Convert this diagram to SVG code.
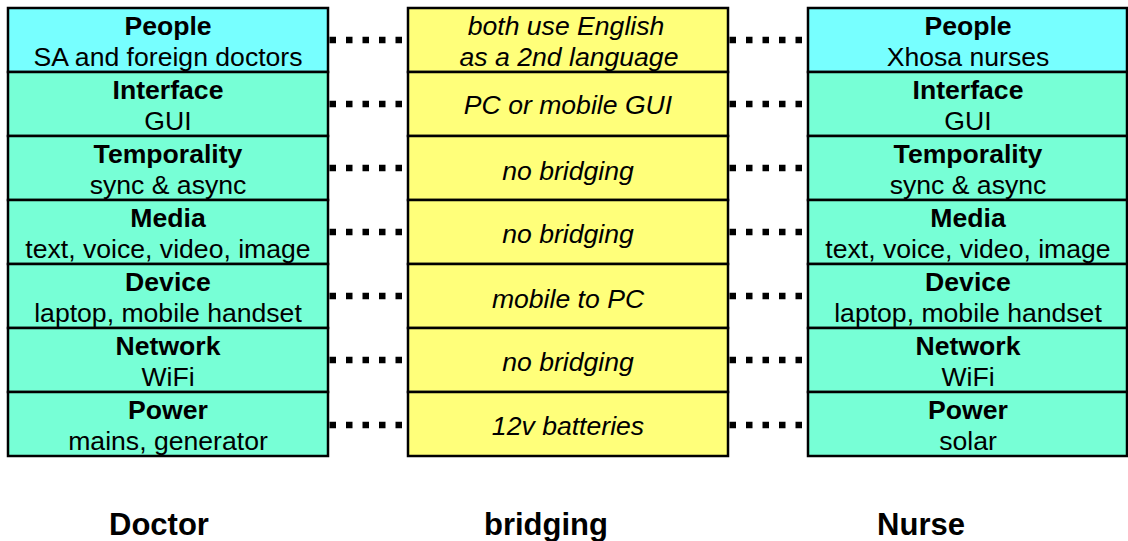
<svg xmlns="http://www.w3.org/2000/svg" width="1128" height="541" viewBox="0 0 1128 541">
<style>
rect{stroke:#000;stroke-width:2.5}
.cy{fill:#77FFFF}
.gr{fill:#77FFD6}
.ye{fill:#FFFF7A}
text{font-family:"Liberation Sans",Arial,sans-serif;font-size:26.6px;text-anchor:middle;fill:#000}
.b{font-weight:bold}
.i{font-style:italic}
.lbl{font-weight:bold;font-size:31px}
.con line{stroke:#000;stroke-width:6.5;stroke-dasharray:6.5 10}
</style>
<rect x="0" y="0" width="1128" height="541" style="fill:#fff;stroke:none"/>
<g class="con" id="connectors">
<line x1="329.5" y1="40" x2="408" y2="40"/><line x1="729.5" y1="40" x2="808" y2="40"/>
<line x1="329.5" y1="104" x2="408" y2="104"/><line x1="729.5" y1="104" x2="808" y2="104"/>
<line x1="329.5" y1="168" x2="408" y2="168"/><line x1="729.5" y1="168" x2="808" y2="168"/>
<line x1="329.5" y1="232" x2="408" y2="232"/><line x1="729.5" y1="232" x2="808" y2="232"/>
<line x1="329.5" y1="296" x2="408" y2="296"/><line x1="729.5" y1="296" x2="808" y2="296"/>
<line x1="329.5" y1="360" x2="408" y2="360"/><line x1="729.5" y1="360" x2="808" y2="360"/>
<line x1="329.5" y1="425" x2="408" y2="425"/><line x1="729.5" y1="425" x2="808" y2="425"/>
</g>
<!-- Doctor column -->
<g id="d-people"><rect class="cy" x="8" y="8" width="320" height="64"/><text class="b" x="168" y="35">People</text><text x="168" y="66">SA and foreign doctors</text></g>
<g id="d-interface"><rect class="gr" x="8" y="72" width="320" height="64"/><text class="b" x="168" y="99">Interface</text><text x="168" y="130">GUI</text></g>
<g id="d-temporality"><rect class="gr" x="8" y="136" width="320" height="64"/><text class="b" x="168" y="163">Temporality</text><text x="168" y="194">sync &amp; async</text></g>
<g id="d-media"><rect class="gr" x="8" y="200" width="320" height="64"/><text class="b" x="168" y="227">Media</text><text x="168" y="258">text, voice, video, image</text></g>
<g id="d-device"><rect class="gr" x="8" y="264" width="320" height="64"/><text class="b" x="168" y="291">Device</text><text x="168" y="322">laptop, mobile handset</text></g>
<g id="d-network"><rect class="gr" x="8" y="328" width="320" height="64"/><text class="b" x="168" y="355">Network</text><text x="168" y="386">WiFi</text></g>
<g id="d-power"><rect class="gr" x="8" y="392" width="320" height="64"/><text class="b" x="168" y="419">Power</text><text x="168" y="450">mains, generator</text></g>
<!-- Bridging column -->
<g id="b-people"><rect class="ye" x="408" y="8" width="320" height="64"/><text class="i" x="566" y="35">both use English</text><text class="i" x="569" y="66">as a 2nd language</text></g>
<g id="b-interface"><rect class="ye" x="408" y="72" width="320" height="64"/><text class="i" x="568" y="114">PC or mobile GUI</text></g>
<g id="b-temporality"><rect class="ye" x="408" y="136" width="320" height="64"/><text class="i" x="568" y="180">no bridging</text></g>
<g id="b-media"><rect class="ye" x="408" y="200" width="320" height="64"/><text class="i" x="568" y="243">no bridging</text></g>
<g id="b-device"><rect class="ye" x="408" y="264" width="320" height="64"/><text class="i" x="568" y="308">mobile to PC</text></g>
<g id="b-network"><rect class="ye" x="408" y="328" width="320" height="64"/><text class="i" x="568" y="371">no bridging</text></g>
<g id="b-power"><rect class="ye" x="408" y="392" width="320" height="64"/><text class="i" x="568" y="435">12v batteries</text></g>
<!-- Nurse column -->
<g id="n-people"><rect class="cy" x="808" y="8" width="319" height="64"/><text class="b" x="968" y="35">People</text><text x="968" y="66">Xhosa nurses</text></g>
<g id="n-interface"><rect class="gr" x="808" y="72" width="319" height="64"/><text class="b" x="968" y="99">Interface</text><text x="968" y="130">GUI</text></g>
<g id="n-temporality"><rect class="gr" x="808" y="136" width="319" height="64"/><text class="b" x="968" y="163">Temporality</text><text x="968" y="194">sync &amp; async</text></g>
<g id="n-media"><rect class="gr" x="808" y="200" width="319" height="64"/><text class="b" x="968" y="227">Media</text><text x="968" y="258">text, voice, video, image</text></g>
<g id="n-device"><rect class="gr" x="808" y="264" width="319" height="64"/><text class="b" x="968" y="291">Device</text><text x="968" y="322">laptop, mobile handset</text></g>
<g id="n-network"><rect class="gr" x="808" y="328" width="319" height="64"/><text class="b" x="968" y="355">Network</text><text x="968" y="386">WiFi</text></g>
<g id="n-power"><rect class="gr" x="808" y="392" width="319" height="64"/><text class="b" x="968" y="419">Power</text><text x="968" y="450">solar</text></g>
<!-- Column labels -->
<g id="label-doctor"><text class="lbl" x="159" y="535">Doctor</text></g>
<g id="label-bridging"><text class="lbl" x="546" y="535">bridging</text></g>
<g id="label-nurse"><text class="lbl" x="921" y="535">Nurse</text></g>
</svg>
